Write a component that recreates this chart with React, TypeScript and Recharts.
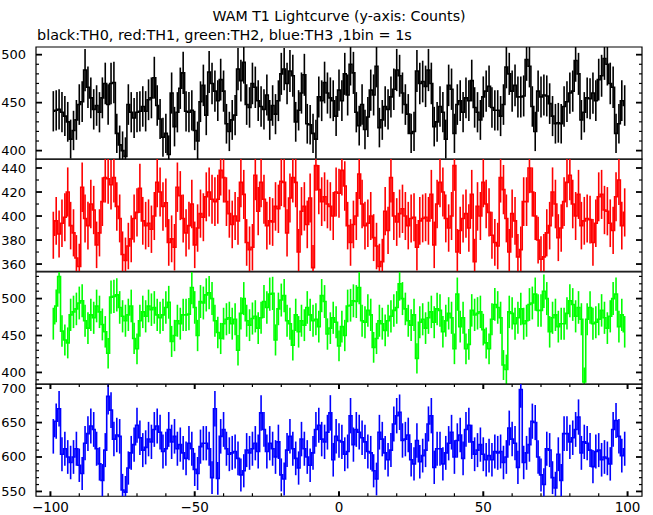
import React from 'react';
import { ComposedChart, Line, ErrorBar, XAxis, YAxis, ReferenceArea } from 'recharts';

// counts per 1s bin (t = -99 .. 99)
const TH0 = [
  441, 442, 443, 440, 436, 430, 412, 421, 432, 448, 451, 484, 466, 455, 443, 447, 440, 455, 470, 448,
  470, 471, 418, 406, 400, 394, 448, 440, 434, 440, 441, 446, 441, 453, 455, 476, 447, 433, 414, 418,
  396, 460, 425, 440, 465, 481, 441, 440, 442, 421, 410, 451, 468, 437, 482, 470, 462, 452, 474, 462,
  428, 420, 432, 437, 485, 473, 492, 448, 445, 470, 466, 452, 446, 443, 458, 432, 447, 438, 452, 480,
  485, 470, 483, 478, 430, 442, 460, 479, 428, 427, 418, 412, 456, 452, 471, 460, 455, 452, 436, 463,
  452, 480, 458, 490, 481, 440, 426, 448, 422, 435, 463, 458, 488, 424, 432, 446, 443, 456, 464, 484,
  478, 460, 448, 438, 418, 420, 483, 470, 472, 467, 484, 470, 425, 430, 446, 440, 412, 468, 464, 418,
  448, 452, 440, 455, 452, 473, 445, 440, 432, 456, 462, 467, 445, 442, 442, 436, 448, 487, 480, 462,
  468, 456, 456, 457, 495, 488, 446, 420, 462, 456, 458, 457, 449, 436, 428, 429, 428, 446, 451, 460,
  462, 494, 480, 432, 440, 455, 454, 460, 452, 474, 478, 496, 490, 470, 466, 418, 428, 452, 447,
];
const TH1 = [
  384, 396, 385, 394, 399, 420, 392, 386, 365, 358, 424, 398, 392, 410, 405, 376, 386, 412, 432, 431,
  426, 432, 408, 398, 368, 363, 375, 381, 398, 403, 423, 396, 392, 394, 389, 400, 428, 420, 408, 411,
  378, 381, 374, 424, 417, 398, 386, 392, 410, 376, 390, 402, 399, 416, 420, 414, 412, 414, 438, 432,
  412, 402, 393, 400, 396, 428, 418, 378, 372, 374, 434, 404, 428, 414, 392, 396, 395, 408, 406, 429,
  428, 386, 415, 432, 428, 370, 404, 408, 393, 415, 357, 442, 422, 412, 416, 410, 408, 400, 420, 419,
  438, 425, 392, 378, 393, 400, 435, 410, 392, 394, 400, 382, 375, 358, 362, 404, 388, 432, 400, 395,
  402, 406, 400, 392, 398, 399, 374, 396, 398, 399, 396, 418, 376, 410, 428, 420, 398, 390, 400, 442,
  370, 388, 398, 402, 390, 418, 362, 408, 400, 428, 410, 403, 384, 378, 375, 432, 422, 398, 370, 402,
  396, 366, 372, 412, 412, 440, 420, 400, 380, 364, 366, 386, 392, 420, 410, 382, 390, 412, 428, 434,
  410, 400, 418, 392, 396, 398, 397, 378, 394, 416, 418, 405, 404, 394, 388, 416, 430, 392, 403,
];
const TH2 = [
  466, 490, 530, 456, 444, 440, 478, 482, 486, 494, 497, 470, 460, 478, 474, 490, 482, 465, 455, 426,
  502, 503, 505, 488, 476, 470, 478, 490, 446, 432, 470, 482, 476, 490, 485, 488, 478, 474, 478, 488,
  495, 442, 450, 470, 466, 478, 478, 479, 515, 488, 450, 496, 494, 505, 508, 500, 470, 454, 446, 466,
  472, 474, 466, 472, 430, 480, 500, 470, 464, 473, 476, 460, 474, 496, 488, 506, 507, 444, 486, 498,
  504, 470, 466, 437, 478, 455, 470, 464, 488, 478, 470, 472, 462, 504, 496, 452, 460, 474, 468, 436,
  462, 450, 490, 491, 497, 496, 515, 470, 468, 484, 478, 434, 446, 470, 466, 457, 470, 476, 484, 488,
  520, 500, 486, 470, 464, 478, 419, 468, 472, 460, 474, 482, 468, 486, 484, 455, 470, 480, 474, 432,
  506, 462, 474, 432, 438, 484, 478, 480, 482, 458, 440, 432, 472, 492, 488, 474, 410, 404, 482, 480,
  466, 474, 486, 466, 470, 492, 494, 506, 484, 484, 510, 500, 455, 474, 478, 462, 466, 466, 480, 497,
  492, 476, 488, 472, 387, 472, 488, 466, 468, 472, 484, 474, 460, 476, 500, 506, 462, 478, 455,
];
const TH3 = [
  630, 652, 670, 604, 612, 600, 592, 600, 612, 588, 576, 620, 634, 645, 640, 612, 590, 566, 610, 688,
  668, 626, 632, 630, 552, 549, 584, 606, 618, 646, 628, 610, 614, 626, 622, 640, 645, 636, 608, 612,
  640, 622, 630, 612, 618, 606, 598, 620, 612, 582, 576, 615, 620, 620, 612, 570, 670, 569, 630, 640,
  612, 604, 606, 608, 598, 574, 580, 610, 606, 612, 620, 608, 664, 640, 608, 620, 612, 600, 622, 574,
  568, 610, 630, 612, 598, 584, 626, 612, 600, 588, 606, 640, 646, 626, 622, 636, 664, 596, 630, 624,
  622, 604, 608, 660, 618, 640, 636, 628, 622, 608, 606, 580, 568, 636, 626, 606, 596, 610, 648, 660,
  665, 624, 626, 632, 596, 590, 624, 593, 602, 610, 648, 660, 585, 612, 612, 590, 606, 620, 636, 600,
  624, 632, 598, 640, 646, 622, 604, 610, 618, 604, 596, 602, 596, 608, 606, 608, 592, 600, 642, 626,
  620, 585, 698, 592, 606, 618, 652, 650, 600, 574, 560, 612, 610, 570, 555, 604, 566, 634, 634, 622,
  628, 640, 658, 606, 622, 620, 610, 586, 608, 610, 596, 600, 598, 590, 640, 653, 630, 602, 612,
];
const TIMES = TH0.map((_, i) => -99 + i);

const X_TICKS = [-100, -90, -80, -70, -60, -50, -40, -30, -20, -10, 0, 10, 20, 30, 40, 50, 60, 70, 80, 90, 100];
const X_LABELS = [-100, -50, 0, 50, 100];

const Y0_TICKS = [400, 410, 420, 430, 440, 450, 460, 470, 480, 490, 500];
const Y0_LABELS = [400, 450, 500];
const Y1_TICKS = [360, 370, 380, 390, 400, 410, 420, 430, 440];
const Y1_LABELS = [360, 380, 400, 420, 440];
const Y2_TICKS = [390, 400, 410, 420, 430, 440, 450, 460, 470, 480, 490, 500, 510, 520, 530];
const Y2_LABELS = [400, 450, 500];
const Y3_TICKS = [550, 560, 570, 580, 590, 600, 610, 620, 630, 640, 650, 660, 670, 680, 690, 700];
const Y3_LABELS = [550, 600, 650, 700];

const W = 653;
const PL = 36; // plot left
const PR = 642; // plot right
const PH = 112.25; // panel height
const PAD = 4;
const FONT = '"DejaVu Sans", sans-serif';

const panels = [
  { top: 47, vals: TH0, color: '#000000', domain: [391, 508], ticks: Y0_TICKS, labels: Y0_LABELS },
  { top: 159.25, vals: TH1, color: '#ff0000', domain: [354, 447.5], ticks: Y1_TICKS, labels: Y1_LABELS },
  { top: 271.5, vals: TH2, color: '#00ff00', domain: [384, 536], ticks: Y2_TICKS, labels: Y2_LABELS },
  { top: 383.75, vals: TH3, color: '#0000ff', domain: [543, 706], ticks: Y3_TICKS, labels: Y3_LABELS },
];

const fmt = (v: number) => (v < 0 ? '\u2212' + Math.abs(v) : String(v));

function makeYTick(labels: number[]) {
  return (props: any) => {
    const { y, payload } = props;
    const major = labels.includes(payload.value);
    const len = major ? 6 : 3;
    const sw = major ? 1.8 : 1.2;
    return (
      <g>
        <line x1={PL} x2={PL + len} y1={y} y2={y} stroke="#000" strokeWidth={sw} />
        <line x1={PR - len} x2={PR} y1={y} y2={y} stroke="#000" strokeWidth={sw} />
        {major && (
          <text x={PL - 10} y={y} textAnchor="end" dominantBaseline="central" fontSize={13} fontFamily={FONT} fill="#000">
            {payload.value}
          </text>
        )}
      </g>
    );
  };
}

function makeXTick(showLabels: boolean) {
  const top = PAD;
  const bottom = PAD + PH;
  return (props: any) => {
    const { x, payload } = props;
    const major = X_LABELS.includes(payload.value);
    const len = major ? 5 : 3;
    const sw = major ? 2 : 1.2;
    return (
      <g>
        <line x1={x} x2={x} y1={top} y2={top + len} stroke="#000" strokeWidth={sw} />
        <line x1={x} x2={x} y1={bottom - len} y2={bottom} stroke="#000" strokeWidth={sw} />
        {showLabels && major && (
          <text x={x} y={bottom + 11} textAnchor="middle" dominantBaseline="central" fontSize={13.5} fontFamily={FONT} fill="#000">
            {fmt(payload.value)}
          </text>
        )}
      </g>
    );
  };
}

function Panel({ idx }: { idx: number }) {
  const p = panels[idx];
  const last = idx === panels.length - 1;
  const xh = last ? 22 : 0;
  const [lo, hi] = p.domain;
  // poisson error bars, cut at the panel frame
  const data = TIMES.map((t, i) => {
    const v = p.vals[i];
    const e = Math.sqrt(v);
    return { t, v, err: [Math.max(0, Math.min(e, v - lo)), Math.max(0, Math.min(e, hi - v))] };
  });
  return (
    <div style={{ position: 'absolute', left: 0, top: p.top - PAD }}>
      <ComposedChart
        width={W}
        height={PH + 2 * PAD + xh}
        data={data}
        margin={{ top: PAD, right: W - PR, bottom: PAD, left: 0 }}
      >
        <XAxis
          dataKey="t"
          type="number"
          domain={[-105, 105]}
          allowDataOverflow
          ticks={X_TICKS}
          interval={0}
          height={xh}
          axisLine={false}
          tickLine={false}
          tick={makeXTick(last)}
        />
        <YAxis
          type="number"
          domain={p.domain}
          allowDataOverflow
          ticks={p.ticks}
          interval={0}
          width={PL}
          axisLine={false}
          tickLine={false}
          tick={makeYTick(p.labels)}
        />
        <Line
          type="step"
          dataKey="v"
          stroke={p.color}
          strokeWidth={1.6}
          dot={false}
          isAnimationActive={false}
        >
          <ErrorBar dataKey="err" direction="y" width={0} stroke={p.color} strokeWidth={1.6} isAnimationActive={false} />
        </Line>
        <ReferenceArea
          x1={-105}
          x2={105}
          y1={lo}
          y2={hi}
          fill="none"
          stroke="#000"
          strokeWidth={1.2}
        />
      </ComposedChart>
    </div>
  );
}

export default function App() {
  return (
    <div style={{ position: 'absolute', left: 0, top: 0, width: W, height: 515, background: '#fff', fontFamily: FONT }}>
      <div style={{ position: 'absolute', left: PL, width: PR - PL, top: 8, lineHeight: '16px', fontSize: 14.2, textAlign: 'center' }}>
        WAM T1 Lightcurve (y-axis: Counts)
      </div>
      <div style={{ position: 'absolute', left: 37, top: 27, lineHeight: '16px', fontSize: 14.4, whiteSpace: 'nowrap' }}>
        black:TH0, red:TH1, green:TH2, blue:TH3 ,1bin = 1s
      </div>
      {panels.map((_, i) => (
        <Panel key={i} idx={i} />
      ))}
    </div>
  );
}
